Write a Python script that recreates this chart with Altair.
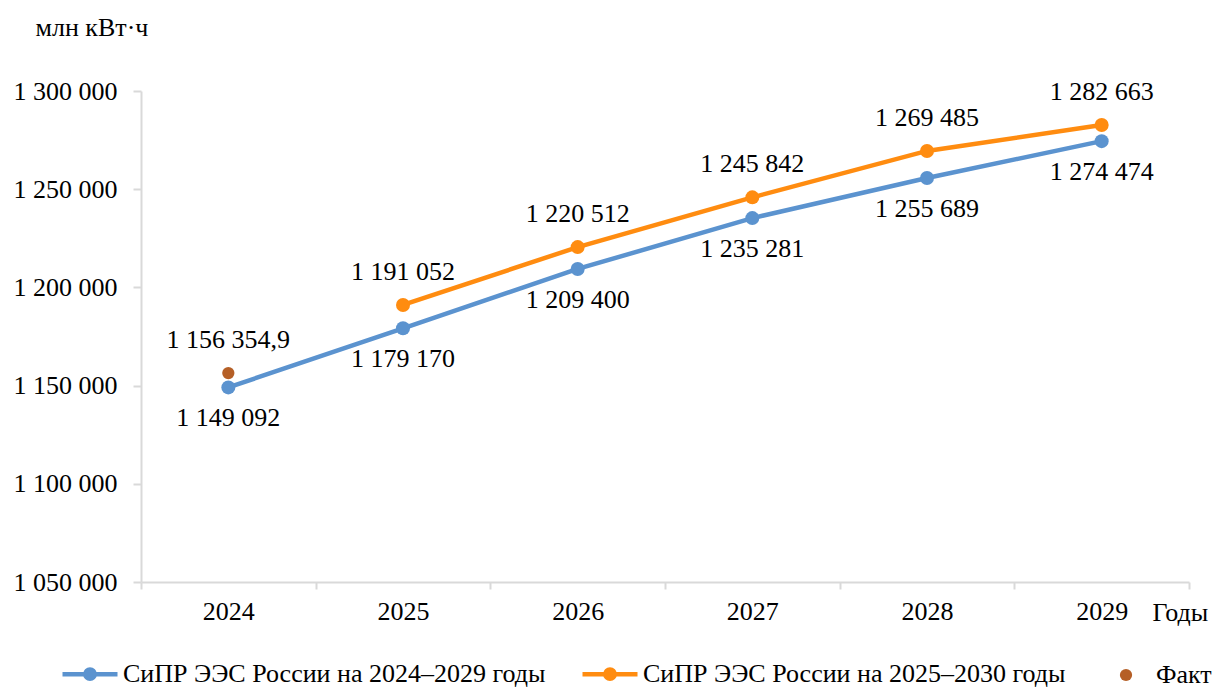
import altair as alt
import pandas as pd

# Electricity consumption forecasts, million kWh
years = ["2024", "2025", "2026", "2027", "2028", "2029"]
plan_2024 = [1149092, 1179170, 1209400, 1235281, 1255689, 1274474]
plan_2025_years = ["2025", "2026", "2027", "2028", "2029"]
plan_2025 = [1191052, 1220512, 1245842, 1269485, 1282663]
fact_years = ["2024"]
fact = [1156354.9]

S1 = "СиПР ЭЭС России на 2024–2029 годы"
S2 = "СиПР ЭЭС России на 2025–2030 годы"
S3 = "Факт"
BLUE, ORANGE, BROWN = "#5B93CF", "#FF8C10", "#B55F26"


def fmt(v):
    if float(v).is_integer():
        return f"{int(v):,}".replace(",", " ")
    return f"{v:,.1f}".replace(",", " ").replace(".", ",")


rows = []
for y, v in zip(years, plan_2024):
    rows.append({"year": y, "series": S1, "value": v, "label": fmt(v)})
for y, v in zip(plan_2025_years, plan_2025):
    rows.append({"year": y, "series": S2, "value": v, "label": fmt(v)})
for y, v in zip(fact_years, fact):
    rows.append({"year": y, "series": S3, "value": v, "label": fmt(v)})
df = pd.DataFrame(rows)

FONT = "Times New Roman"
AXIS_GREY = "#D9D9D9"

# legend glyph: a short line with a solid round marker in the middle
line_glyph = (
    "M-1,0L1,0"
    "M-0.171,0A0.171,0.171,0,1,1,0.171,0A0.171,0.171,0,1,1,-0.171,0Z"
    "M-0.091,0A0.091,0.091,0,1,1,0.091,0A0.091,0.091,0,1,1,-0.091,0Z"
    "M-0.018,0A0.018,0.018,0,1,1,0.018,0A0.018,0.018,0,1,1,-0.018,0Z"
)

line_legend = alt.Legend(
    title=None,
    orient="none",
    direction="horizontal",
    legendX=-81,
    legendY=553,
    symbolType=line_glyph,
    symbolSize=3025,
    symbolStrokeWidth=4.5,
    symbolOpacity=1,
    labelFont=FONT,
    labelFontSize=26,
    labelColor="black",
    labelOffset=3,
    columnPadding=27,
    labelLimit=600,
)

fact_legend = alt.Legend(
    title=None,
    orient="none",
    direction="horizontal",
    legendX=972,
    legendY=571,
    symbolType="circle",
    symbolSize=150,
    symbolStrokeWidth=0,
    symbolOpacity=1,
    labelFont=FONT,
    labelFontSize=26,
    labelColor="black",
    labelOffset=17,
)

x_enc = alt.X(
    "year:N",
    bandPosition=0.5,
    scale=alt.Scale(type="band", domain=years, paddingInner=0, paddingOuter=0),
    axis=alt.Axis(
        title="Годы",
        titleAngle=0,
        titleX=1011,
        titleY=30,
        titleAlign="left",
        titleBaseline="middle",
        titleFont=FONT,
        titleFontSize=26,
        titleFontWeight="normal",
        titleColor="black",
        labelAngle=0,
        labelFont=FONT,
        labelFontSize=26,
        labelColor="black",
        labelPadding=9,
        tickBand="extent",
        tickSize=7,
        tickWidth=2,
        tickColor=AXIS_GREY,
        domainColor=AXIS_GREY,
        domainWidth=2,
        grid=False,
    ),
)

y_enc = alt.Y(
    "value:Q",
    scale=alt.Scale(domain=[1050000, 1300000], nice=False, zero=False),
    axis=alt.Axis(
        title="млн кВт·ч",
        titleAngle=0,
        titleX=-106,
        titleY=-64,
        titleAlign="left",
        titleBaseline="middle",
        titleFont=FONT,
        titleFontSize=26,
        titleFontWeight="normal",
        titleColor="black",
        values=[1050000, 1100000, 1150000, 1200000, 1250000, 1300000],
        labelExpr="replace(replace(format(datum.value, ','), ',', ' '), ',', ' ')",
        labelFont=FONT,
        labelFontSize=26,
        labelColor="black",
        labelPadding=16,
        tickSize=8,
        tickWidth=2,
        tickColor=AXIS_GREY,
        domainColor=AXIS_GREY,
        domainWidth=2,
        grid=False,
    ),
)

base = alt.Chart(df)

lines = base.transform_filter(alt.datum.series != S3).mark_line(
    strokeWidth=4.5
).encode(
    x=x_enc,
    y=y_enc,
    color=alt.Color(
        "series:N",
        scale=alt.Scale(domain=[S1, S2], range=[BLUE, ORANGE]),
        legend=line_legend,
    ),
)

pts_1 = base.transform_filter(alt.datum.series == S1).mark_point(
    filled=True, size=196, opacity=1, color=BLUE
).encode(x=x_enc, y=y_enc)

pts_2 = base.transform_filter(alt.datum.series == S2).mark_point(
    filled=True, size=196, opacity=1, color=ORANGE
).encode(x=x_enc, y=y_enc)

pts_fact = base.transform_filter(alt.datum.series == S3).mark_point(
    filled=True, size=150, opacity=1, strokeWidth=0
).encode(
    x=x_enc,
    y=y_enc,
    fill=alt.Fill(
        "series:N",
        scale=alt.Scale(domain=[S3], range=[BROWN]),
        legend=fact_legend,
    ),
)

labels_below = base.transform_filter(alt.datum.series == S1).mark_text(
    font=FONT, fontSize=26, color="black", dy=31, baseline="middle"
).encode(x=x_enc, y=y_enc, text="label:N")

labels_above = base.transform_filter(alt.datum.series != S1).mark_text(
    font=FONT, fontSize=26, color="black", dy=-33, baseline="middle"
).encode(x=x_enc, y=y_enc, text="label:N")

chart = (
    alt.layer(lines, pts_1, pts_2, pts_fact, labels_below, labels_above)
    .resolve_scale(color="independent", fill="independent")
    .properties(
        width=1048,
        height=491,
        autosize=alt.AutoSizeParams(type="none"),
        padding={"left": 141, "top": 91, "right": 28, "bottom": 109},
        background="white",
    )
    .configure(font=FONT)
    .configure_view(stroke=None)
)

chart.save("out.html", embed_options={"renderer": "svg", "actions": False})
